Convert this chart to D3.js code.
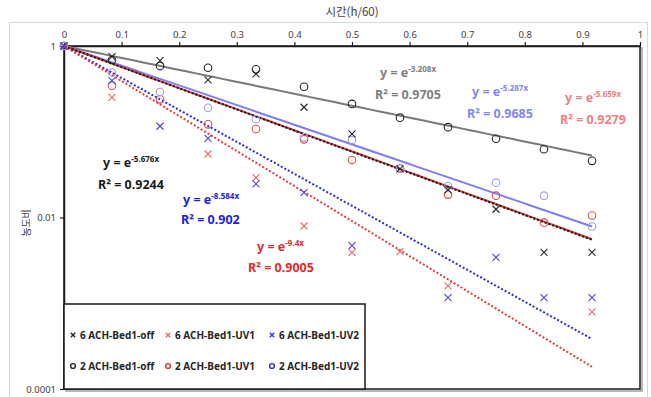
<!DOCTYPE html>
<html><head><meta charset="utf-8">
<script src="https://cdn.jsdelivr.net/npm/d3@7"></script>
<style>
body{margin:0;background:#fff;}
svg{display:block;font-family:"Noto Sans","Noto Sans CJK KR",sans-serif;}
</style></head>
<body><svg id="c" width="651" height="397"></svg>
<script>
// ---- data ----
const times = [0, 0.0833, 0.1667, 0.25, 0.3333, 0.4167, 0.5, 0.5833, 0.6667, 0.75, 0.8333, 0.9167];
const ach6Off = [1, 0.75, 0.674, 0.402, 0.472, 0.193, 0.0942, 0.0369, 0.021, 0.01248, 0.00393, 0.00393];
const ach6UV1 = [1, 0.252, 0.1166, 0.055, 0.0291, 0.00796, 0.00393, 0.00399, 0.00159, null, null, 0.000795];
const ach6UV2 = [1, 0.394, 0.1166, 0.0839, 0.0246, 0.01946, 0.00469, null, 0.00116, 0.00343, 0.00116, 0.00116];
const ach2Off = [1, 0.687, 0.584, 0.558, 0.534, 0.335, 0.211, 0.146, 0.113, 0.0829, 0.0625, 0.0458];
const ach2UV1 = [1, 0.345, 0.239, 0.122, 0.1076, 0.0816, 0.0468, 0.0372, 0.0185, 0.01796, 0.0087, 0.01055];
const ach2UV2 = [1, 0.491, 0.2905, 0.1906, 0.1399, 0.0861, 0.0801, 0.0378, 0.0233, 0.0255, 0.01796, 0.00785];
const seriesNames = ["6 ACH-Bed1-off", "6 ACH-Bed1-UV1", "6 ACH-Bed1-UV2", "2 ACH-Bed1-off", "2 ACH-Bed1-UV1", "2 ACH-Bed1-UV2"];
// exponential trend lines y = e^(-k x)
const trendK = [5.676, 9.4, 8.584, 3.208, 5.659, 5.287];
const trendR2 = ["0.9244", "0.9005", "0.902", "0.9705", "0.9279", "0.9685"];
const xTicks = [0, 0.1, 0.2, 0.3, 0.4, 0.5, 0.6, 0.7, 0.8, 0.9, 1];
const yTicks = [1, 0.01, 0.0001];

// ---- styling ----
const svg = d3.select("#c");
const x = d3.scaleLinear([0, 1], [64, 640]);
const y = d3.scaleLog([0.0001, 1], [389, 46]);

const mk = [
  {shape:"x", color:"#262626", lcolor:"#262626"},
  {shape:"x", color:"#e86a6a", lcolor:"#e86a6a"},
  {shape:"x", color:"#4b4bd6", lcolor:"#3a3ad0"},
  {shape:"o", color:"#262626", lcolor:"#262626"},
  {shape:"o", color:"#e04848", lcolor:"#e03030"},
  {shape:"o", color:"#9a9af0", lcolor:"#2a2ad0"}
];
const trendStyle = [
  {color:"#1a1a1a", dash:"2,2", w:2, order:5},
  {color:"#e63b3b", dash:"2,2", w:2, order:3},
  {color:"#2c2cd8", dash:"2,2", w:2, order:2},
  {color:"#7a7a7a", dash:null, w:2, order:0},
  {color:"#d93a3a", dash:null, w:2, order:4},
  {color:"#7d7df5", dash:null, w:2, order:1}
];
const labelStyle = [
  {color:"#1a1a1a", x:103, y:167, rx:98, ry:189},
  {color:"#e42a2a", x:257, y:251, rx:248, ry:272},
  {color:"#2121dd", x:183, y:204, rx:181, ry:224},
  {color:"#808080", x:380, y:77, rx:375, ry:99},
  {color:"#f08080", x:565, y:102, rx:560, ry:124},
  {color:"#8585f0", x:472, y:96, rx:467, ry:118}
];

// outer chart border
svg.append("rect").attr("x",9.5).attr("y",22.5).attr("width",638).attr("height",380)
  .attr("fill","none").attr("stroke","#d9d9d9");

// titles
svg.append("text").attr("x",352).attr("y",16).attr("text-anchor","middle")
  .attr("font-size",11.5).attr("fill","#404040")
  .style("font-family","'Noto Sans CJK KR',sans-serif").text("시간(h/60)");
svg.append("text").attr("transform","translate(30,223) rotate(-90)").attr("text-anchor","middle")
  .attr("font-size",10).attr("fill","#404040")
  .style("font-family","'Noto Sans CJK KR',sans-serif").text("농도비");

// plot frame with shadow
svg.append("rect").attr("x",66).attr("y",48).attr("width",576).attr("height",343).attr("fill","none")
  .attr("stroke","#a0a0a0").attr("stroke-width",1.5);
svg.append("rect").attr("x",64).attr("y",46).attr("width",576).attr("height",343).attr("fill","#fff")
  .attr("stroke","#1a1a1a").attr("stroke-width",1.5);

// axes
const gx = svg.append("g").attr("transform","translate(0,46)")
  .call(d3.axisTop(x).tickValues(xTicks).tickSize(4).tickSizeOuter(0).tickFormat(d3.format("~g")));
const gy = svg.append("g").attr("transform","translate(64,0)")
  .call(d3.axisLeft(y).tickValues(yTicks).tickSize(4).tickSizeOuter(0).tickFormat(d => String(d)));
[gx, gy].forEach(g => {
  g.select(".domain").attr("stroke","#1a1a1a").attr("stroke-width",1.5);
  g.selectAll(".tick line").attr("stroke","#1a1a1a").attr("stroke-width",1.2);
  g.selectAll(".tick text").attr("font-size",9.5).attr("fill","#404040")
    .style("font-family","'Noto Sans',sans-serif");
});
gx.selectAll(".tick text").attr("dy","-0.1em");
gy.selectAll(".tick text").attr("x",-8);

// trend lines
const lineGen = d3.line().x(d => x(d[0])).y(d => y(d[1]));
const tMax = d3.max(times);
const order = d3.range(6).sort((a,b) => trendStyle[a].order - trendStyle[b].order);
const gl = svg.append("g");
order.forEach(i => {
  const pts = d3.range(0, 61).map(j => { const t = tMax*j/60; return [t, Math.exp(-trendK[i]*t)]; });
  gl.append("path").attr("d", lineGen(pts)).attr("fill","none")
    .attr("stroke", trendStyle[i].color).attr("stroke-width", trendStyle[i].w)
    .attr("stroke-dasharray", trendStyle[i].dash);
});

// markers
const allSeries = [ach6Off, ach6UV1, ach6UV2, ach2Off, ach2UV1, ach2UV2];
function drawMarker(g, shape, color, cx, cy, s, sw){
  if (shape === "x") {
    g.append("path").attr("d",`M${cx-s},${cy-s}L${cx+s},${cy+s}M${cx-s},${cy+s}L${cx+s},${cy-s}`)
      .attr("stroke",color).attr("stroke-width",sw).attr("fill","none");
  } else {
    g.append("circle").attr("cx",cx).attr("cy",cy).attr("r",s).attr("fill","none")
      .attr("stroke",color).attr("stroke-width",sw);
  }
}
const gm = svg.append("g");
[3,4,5,0,1,2].forEach(si => {
  allSeries[si].forEach((v,k) => {
    if (v == null) return;
    drawMarker(gm, mk[si].shape, mk[si].color, x(times[k]), y(v), mk[si].shape==="x"?3.5:3.8, 1.1);
  });
});

// trend labels
const gt = svg.append("g").attr("font-weight","bold").attr("font-size",12.5)
  .style("font-family","'Noto Sans',sans-serif");
labelStyle.forEach((ls,i) => {
  const t1 = gt.append("text").attr("x",ls.x).attr("y",ls.y).attr("fill",ls.color);
  t1.append("tspan").text("y = e");
  t1.append("tspan").attr("font-size",8).attr("dy",-5).text("-" + trendK[i] + "x");
  gt.append("text").attr("x",ls.rx).attr("y",ls.ry).attr("fill",ls.color).text("R² = " + trendR2[i]);
});

// legend
const lg = svg.append("g");
lg.append("rect").attr("x",64).attr("y",304).attr("width",301).attr("height",85)
  .attr("fill","#fff").attr("stroke","#1a1a1a").attr("stroke-width",1.5);
const colX = [73, 168, 272];
const rowY = [335, 366];
seriesNames.forEach((n,i) => {
  const cx = colX[i%3], cy = rowY[Math.floor(i/3)];
  drawMarker(lg, mk[i].shape, mk[i].lcolor, cx, cy, mk[i].shape==="x"?2.2:2.4, 1.4);
  lg.append("text").attr("x",cx+7).attr("y",cy+3.8).attr("font-size",10).attr("font-weight","bold")
    .attr("fill","#262626").style("font-family","'Noto Sans',sans-serif").text(n);
});
</script></body></html>
